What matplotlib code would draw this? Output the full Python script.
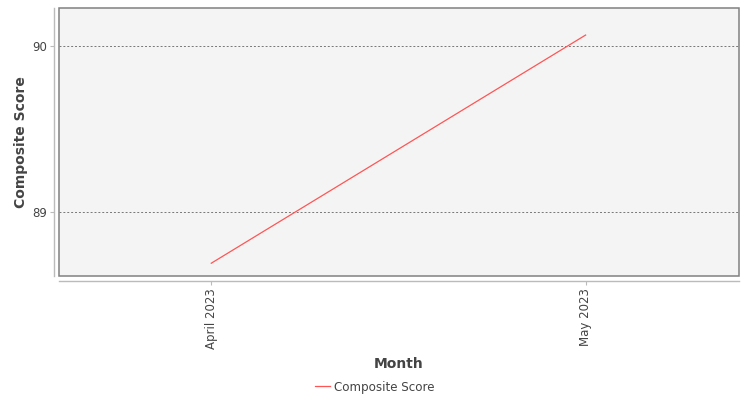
import matplotlib
matplotlib.use("Agg")
import matplotlib.pyplot as plt
from matplotlib.patches import Rectangle

months = ["April 2023", "May 2023"]
scores = [88.693, 90.068]
yticks = [89, 90]

fig = plt.figure(figsize=(7.5, 4), dpi=100)
ax = fig.add_axes([59.3/750, 1-275.5/400, (738.7-59.3)/750, (275.5-8)/400])
ax.set_facecolor("#f4f4f4")

x = list(range(len(months)))
ax.plot(x, scores, color="#ff5555", linewidth=0.9, label="Composite Score")

ax.set_xlim(-0.406, 1.409)
ax.set_ylim(88.619, 90.231)
ax.set_xticks(x)
ax.set_xticklabels(months)
ax.set_yticks(yticks)
ax.set_yticklabels([str(v) for v in yticks])
ax.grid(axis="y", linestyle=(0, (2, 2)), color="#777777", linewidth=0.7)
ax.set_axisbelow(True)

for s in ["top", "right"]:
    ax.spines[s].set_visible(False)
for s in ["left", "bottom"]:
    ax.spines[s].set_position(("outward", 4))
    ax.spines[s].set_color("#bbbbbb")
    ax.spines[s].set_linewidth(1.0)
ax.tick_params(axis="both", length=3, width=0.8, color="#bbbbbb", pad=2,
               labelsize=8.5, labelcolor="#444444")
ax.tick_params(axis="x", labelrotation=90)

# plot area outline
ax.add_patch(Rectangle((0, 0), 1, 1, transform=ax.transAxes, fill=False,
                       edgecolor="#808080", linewidth=1.1, zorder=5, clip_on=False))

ax.set_xlabel("Month", fontsize=10, fontweight="bold", color="#444444")
ax.set_ylabel("Composite Score", fontsize=10, fontweight="bold", color="#444444")
ax.xaxis.set_label_coords(0.5, -(357-275.5)/267.5)
ax.yaxis.set_label_coords(-(59.3-28)/679.4, 0.5)

leg = fig.legend(loc="center", bbox_to_anchor=(375/750, 1-387/400), frameon=False,
                 fontsize=8.6, handlelength=1.2, handletextpad=0.35)
for t in leg.get_texts():
    t.set_color("#444444")

fig.savefig("out.png", dpi=100)
